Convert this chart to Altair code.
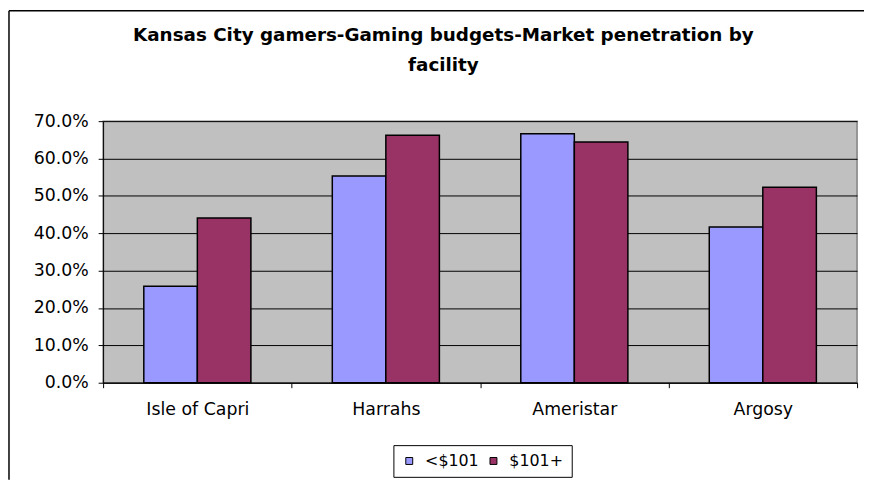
import altair as alt
import pandas as pd

facilities = ["Isle of Capri", "Harrahs", "Ameristar", "Argosy"]
series = ["<$101", "$101+"]
under_101 = [0.258, 0.553, 0.666, 0.417]
over_101 = [0.441, 0.662, 0.644, 0.523]
y_ticks = [0.0, 0.1, 0.2, 0.3, 0.4, 0.5, 0.6, 0.7]
colors = ["#9999FF", "#993366"]
title_lines = ["Kansas City gamers-Gaming budgets-Market penetration by", "facility"]

rows = []
for i, f in enumerate(facilities):
    rows.append({"facility": f, "budget": series[0], "share": under_101[i]})
    rows.append({"facility": f, "budget": series[1], "share": over_101[i]})
df = pd.DataFrame(rows)

FONT = "DejaVu Sans"

bars = alt.Chart(df).mark_bar(stroke="black", strokeWidth=1.5).encode(
    x=alt.X(
        "facility:N", sort=facilities,
        scale=alt.Scale(paddingInner=0, paddingOuter=0),
        axis=alt.Axis(title=None, labelAngle=0, tickBand="extent", grid=False,
                      labelFontSize=17.5, labelFont=FONT, labelColor="black",
                      labelPadding=13, tickSize=5, tickColor="black",
                      domainColor="black", domainWidth=1),
    ),
    xOffset=alt.XOffset("budget:N", sort=series,
                        scale=alt.Scale(paddingInner=0, paddingOuter=0.76)),
    y=alt.Y(
        "share:Q",
        scale=alt.Scale(domain=[0, 0.7], nice=False),
        axis=alt.Axis(title=None, format=".1%", values=y_ticks,
                      labelFontSize=17.5, labelFont=FONT, labelColor="black",
                      labelPadding=10, tickSize=5, tickColor="black",
                      domainColor="black", domainWidth=1,
                      grid=True, gridColor="black", gridWidth=1),
    ),
    color=alt.Color(
        "budget:N", sort=series,
        scale=alt.Scale(domain=series, range=colors),
        legend=alt.Legend(
            title=None, orient="none", direction="horizontal",
            legendX=293, legendY=327,
            strokeColor="black", fillColor="white", padding=8,
            symbolType="square", symbolSize=49, symbolStrokeColor="black",
            symbolStrokeWidth=1, labelFontSize=16, labelFont=FONT,
            labelColor="black", labelOffset=8, columnPadding=6,
        ),
    ),
)

frame = pd.DataFrame({"k": [0]})
top_border = alt.Chart(frame).mark_rule(color="black", strokeWidth=1.5).encode(
    x=alt.value(-95), x2=alt.value(768), y=alt.value(-111.5)
)
left_border = alt.Chart(frame).mark_rule(color="black", strokeWidth=1.5).encode(
    x=alt.value(-95), y=alt.value(-111.5), y2=alt.value(362)
)
title = alt.Chart(frame).mark_text(
    text=title_lines, font=FONT, fontSize=18.5, fontWeight="bold", color="black",
    align="center", baseline="top", lineHeight=30,
).encode(x=alt.value(343.5), y=alt.value(-96))

chart = alt.layer(bars, top_border, left_border, title).properties(
    width=761, height=264,
    padding={"left": 96, "top": 112, "right": 7, "bottom": 98},
    autosize=alt.AutoSizeParams(type="none"),
).configure_view(fill="#C0C0C0", stroke="#808080", strokeWidth=1.5)

chart.save("out.html", embed_options={"renderer": "svg", "actions": False})
